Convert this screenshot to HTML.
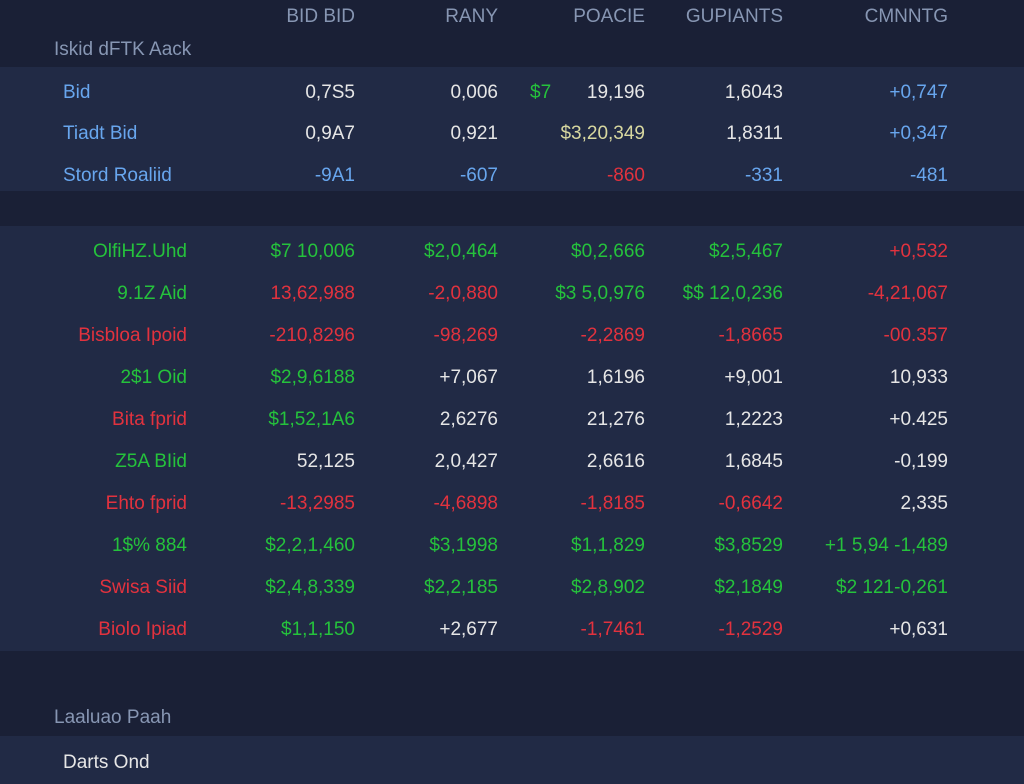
<!DOCTYPE html>
<html><head><meta charset="utf-8"><style>
html,body{margin:0;padding:0}
body{width:1024px;height:784px;background:#1a2036;position:relative;overflow:hidden;font-family:"Liberation Sans",sans-serif;font-size:19px}
.band{position:absolute;left:0;width:1024px;background:#212a45}
.t{position:absolute;white-space:nowrap;line-height:22px}
.r{text-align:right}
.h{color:#8796b3}
.w{color:#e6e6e6}
.b{color:#68a6ee}
.g{color:#25c23c}
.rd{color:#e2323e}
.y{color:#d8d8a0}
</style></head><body>
<div class="band" style="top:67px;height:124px"></div>
<div class="band" style="top:226px;height:425px"></div>
<div class="band" style="top:736px;height:48px"></div>

<div class="t h r" style="top:6px;right:669px">BID BID</div>
<div class="t h r" style="top:6px;right:526px">RANY</div>
<div class="t h r" style="top:6px;right:379px">POACIE</div>
<div class="t h r" style="top:6px;right:241px">GUPIANTS</div>
<div class="t h r" style="top:6px;right:76px">CMNNTG</div>
<div class="t h" style="top:39px;left:54px">Iskid dFTK Aack</div>

<div id="top"></div>
<div class="t h" style="top:707px;left:54px">Laaluao Paah</div>
<div class="t w" style="top:752px;left:63px">Darts Ond</div>

<script>
const cols=[355,498,645,783,948];
function put(y,cells){cells.forEach((c,i)=>{if(!c)return;const d=document.createElement('div');d.className='t r '+c[1];d.style.top=(y-11)+'px';d.style.right=(1024-cols[i])+'px';d.textContent=c[0];document.body.appendChild(d);});}
function lab(y,txt,cls,left,right){const d=document.createElement('div');d.className='t '+cls+(right?' r':'');d.style.top=(y-11)+'px';if(right)d.style.right=(1024-right)+'px';else d.style.left=left+'px';d.textContent=txt;document.body.appendChild(d);}
lab(93,'Bid','b',63);put(93,[['0,7S5','w'],['0,006','w'],['19,196','w'],['1,6043','w'],['+0,747','b']]);
lab(93,'$7','g',530);
lab(134,'Tiadt Bid','b',63);put(134,[['0,9A7','w'],['0,921','w'],['$3,20,349','y'],['1,8311','w'],['+0,347','b']]);
lab(176,'Stord Roaliid','b',63);put(176,[['-9A1','b'],['-607','b'],['-860','rd'],['-331','b'],['-481','b']]);
const rows=[
['OlfiHZ.Uhd','g',[['$7  10,006','g'],['$2,0,464','g'],['$0,2,666','g'],['$2,5,467','g'],['+0,532','rd']]],
['9.1Z Aid','g',[['13,62,988','rd'],['-2,0,880','rd'],['$3 5,0,976','g'],['$$ 12,0,236','g'],['-4,21,067','rd']]],
['Bisbloa Ipoid','rd',[['-210,8296','rd'],['-98,269','rd'],['-2,2869','rd'],['-1,8665','rd'],['-00.357','rd']]],
['2$1 Oid','g',[['$2,9,6188','g'],['+7,067','w'],['1,6196','w'],['+9,001','w'],['10,933','w']]],
['Bita fprid','rd',[['$1,52,1A6','g'],['2,6276','w'],['21,276','w'],['1,2223','w'],['+0.425','w']]],
['Z5A BIid','g',[['52,125','w'],['2,0,427','w'],['2,6616','w'],['1,6845','w'],['-0,199','w']]],
['Ehto fprid','rd',[['-13,2985','rd'],['-4,6898','rd'],['-1,8185','rd'],['-0,6642','rd'],['2,335','w']]],
['1$% 884','g',[['$2,2,1,460','g'],['$3,1998','g'],['$1,1,829','g'],['$3,8529','g'],['+1 5,94 -1,489','g']]],
['Swisa Siid','rd',[['$2,4,8,339','g'],['$2,2,185','g'],['$2,8,902','g'],['$2,1849','g'],['$2 121-0,261','g']]],
['Biolo Ipiad','rd',[['$1,1,150','g'],['+2,677','w'],['-1,7461','rd'],['-1,2529','rd'],['+0,631','w']]]
];
rows.forEach((r,i)=>{const y=252+i*42;lab(y,r[0],r[1],0,187);put(y,r[2]);});
</script>
</body></html>
